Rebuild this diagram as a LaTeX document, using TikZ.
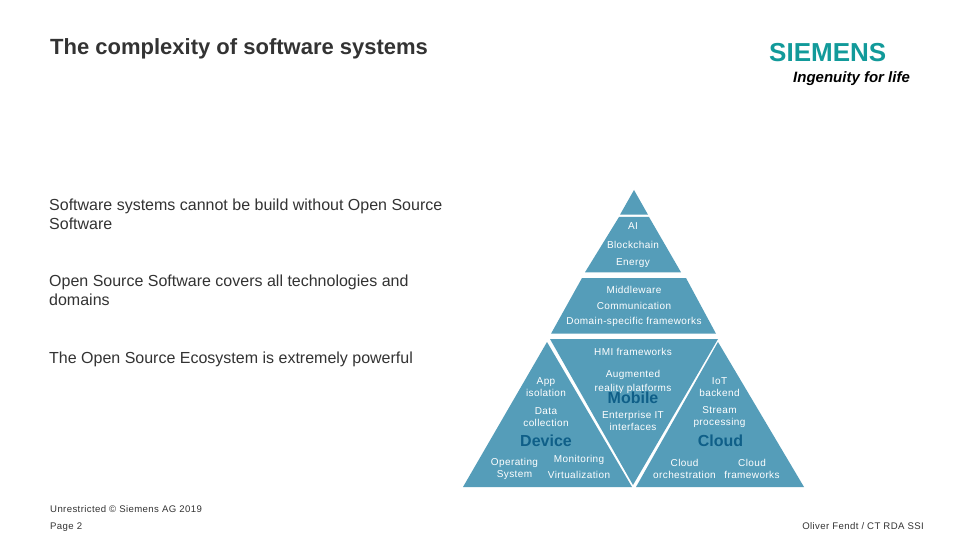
\documentclass[tikz,border=0pt]{standalone}
\usepackage{fontspec}
\setmainfont{Liberation Sans}
\newfontfamily\spaced[LetterSpace=4]{Liberation Sans}
\definecolor{tealfill}{HTML}{559DB9}
\definecolor{darkteal}{HTML}{0F5F88}
\definecolor{logoteal}{HTML}{129A9A}
\definecolor{txt}{HTML}{333333}
\tikzset{
  seg/.style={fill=tealfill,draw=none},
  body/.style={font=\fontsize{16}{19}\selectfont,text=txt,anchor=north west,align=left,inner sep=0pt},
  small/.style={font=\spaced\fontsize{10}{12}\selectfont,text=white,align=center,inner sep=0pt},
  big/.style={font=\fontsize{16}{17}\selectfont\bfseries,text=darkteal,inner sep=0pt},
  foot/.style={font=\spaced\fontsize{9.6}{11}\selectfont,text=txt,inner sep=0pt}
}
\begin{document}
\begin{tikzpicture}[x=1pt,y=-1pt]
\useasboundingbox (0,0) rectangle (961,540);
\fill[white] (0,0) rectangle (961,540);
\node[font=\fontsize{22}{25}\selectfont\bfseries,text=txt,anchor=west,inner sep=0pt] (title) at (50,49) {The complexity of software systems};
\node[font=\fontsize{26}{26}\selectfont\bfseries,text=logoteal,anchor=west,inner sep=0pt] (logo) at (769,53) {SIEMENS};
\node[font=\fontsize{15}{15}\selectfont\bfseries\itshape,text=black,anchor=west,inner sep=0pt] (slogan) at (793,79) {Ingenuity for life};
\node[body] (t1) at (49,198.5) {Software systems cannot be build without Open Source\\Software};
\node[body] (t2) at (49,275) {Open Source Software covers all technologies and\\domains};
\node[body] (t3) at (49,352) {The Open Source Ecosystem is extremely powerful};
% pyramid
\fill[seg] (634,190) -- (648,214.7) -- (620,214.7) -- cycle;
\fill[seg] (619,217) -- (649,217) -- (681,272.3) -- (585,272.3) -- cycle;
\fill[seg] (582,278) -- (686,278) -- (716,333.7) -- (551,333.7) -- cycle;
\fill[seg] (550,339) -- (718,339) -- (633,485) -- cycle;
\fill[seg] (547,342) -- (632,487) -- (463,487) -- cycle;
\fill[seg] (718,342) -- (804,487) -- (636,487) -- cycle;
\node[small] (a1) at (633,226.5) {AI};
\node[small] (a2) at (633,244.5) {Blockchain};
\node[small] (a3) at (633,263) {Energy};
\node[small] (b1) at (634,289.5) {Middleware};
\node[small] (b2) at (634,305.5) {Communication};
\node[small] (b3) at (634,322) {Domain-specific frameworks};
\node[small] (c1) at (633,351.5) {HMI frameworks};
\node[small] (c2) at (633,381.5) {Augmented\\[2pt]reality platforms};
\node[big] (mobile) at (633,397.5) {Mobile};
\node[small] (c3) at (633,420.5) {Enterprise IT\\interfaces};
\node[small] (d1) at (546,387.5) {App\\isolation};
\node[small] (d2) at (546,417) {Data\\collection};
\node[big] (device) at (546,441) {Device};
\node[small] (d3) at (514.5,468.5) {Operating\\System};
\node[small] (d4) at (579,466.5) {Monitoring\\[4pt]Virtualization};
\node[small] (e1) at (719.5,387.5) {IoT\\backend};
\node[small] (e2) at (719.5,417) {Stream\\processing};
\node[big] (cloud) at (720.5,441) {Cloud};
\node[small] (e3) at (684.5,468.5) {Cloud\\orchestration};
\node[small] (e4) at (752,468.5) {Cloud\\frameworks};
% footer
\node[foot,anchor=west] (f1) at (50,509) {Unrestricted © Siemens AG 2019};
\node[foot,anchor=west] (f2) at (50,527.5) {Page 2};
\node[foot,anchor=east] (f3) at (924,526.5) {Oliver Fendt / CT RDA SSI};
\end{tikzpicture}
\end{document}
